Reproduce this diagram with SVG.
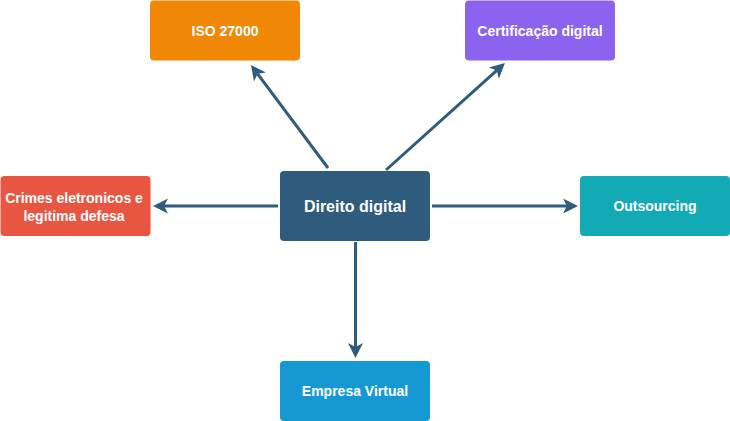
<svg xmlns="http://www.w3.org/2000/svg" width="730" height="421" viewBox="0 0 730 421">
  <style>
    .box { stroke: none; }
    .lbl { font-family: "Liberation Sans", Arial, Helvetica, sans-serif; font-weight: bold; font-size: 14px; fill: #ffffff; text-anchor: middle; dominant-baseline: central; }
    .big { font-size: 16px; }
    .conn { fill: none; stroke: #2f5b7c; stroke-width: 3; marker-end: url(#arrow); }
  </style>
  <defs>
    <marker id="arrow" markerUnits="userSpaceOnUse" viewBox="-16 -9 18 18" markerWidth="18" markerHeight="18" refX="-11" refY="0" orient="auto">
      <path d="M0,0 L-15,-7.5 L-11,0 L-15,7.5 Z" fill="#2f5b7c"/>
    </marker>
  </defs>
  <rect width="730" height="421" fill="#ffffff"/>

  <g id="connectors">
    <line class="conn" x1="328" y1="168" x2="257.6" y2="73.8"/>
    <line class="conn" x1="386" y1="170" x2="496.8" y2="70.4"/>
    <line class="conn" x1="278" y1="206" x2="164" y2="206"/>
    <line class="conn" x1="432" y1="206" x2="567" y2="206"/>
    <line class="conn" x1="355.5" y1="242" x2="355.5" y2="347"/>
  </g>

  <g id="node-iso">
    <rect class="box" x="150" y="0.5" width="150" height="60" rx="4" fill="#f08705"/>
    <text class="lbl" x="225" y="30.5">ISO 27000</text>
  </g>
  <g id="node-cert">
    <rect class="box" x="465" y="0.5" width="150" height="60" rx="4" fill="#8b63ef"/>
    <text class="lbl" x="540" y="30.5">Certificação digital</text>
  </g>
  <g id="node-direito">
    <rect class="box" x="280" y="171" width="150" height="70" rx="4" fill="#2f5b7c"/>
    <text class="lbl big" x="355" y="206.5">Direito digital</text>
  </g>
  <g id="node-crimes">
    <rect class="box" x="0.5" y="176" width="150" height="60" rx="4" fill="#e85642"/>
    <text class="lbl" x="74" y="198">Crimes eletronicos e</text>
    <text class="lbl" x="74" y="215.5">legitima defesa</text>
  </g>
  <g id="node-outsourcing">
    <rect class="box" x="580" y="176" width="150" height="60" rx="4" fill="#12aab5"/>
    <text class="lbl" x="655" y="206">Outsourcing</text>
  </g>
  <g id="node-empresa">
    <rect class="box" x="280" y="361" width="150" height="60" rx="4" fill="#1699d3"/>
    <text class="lbl" x="355" y="391">Empresa Virtual</text>
  </g>
</svg>
